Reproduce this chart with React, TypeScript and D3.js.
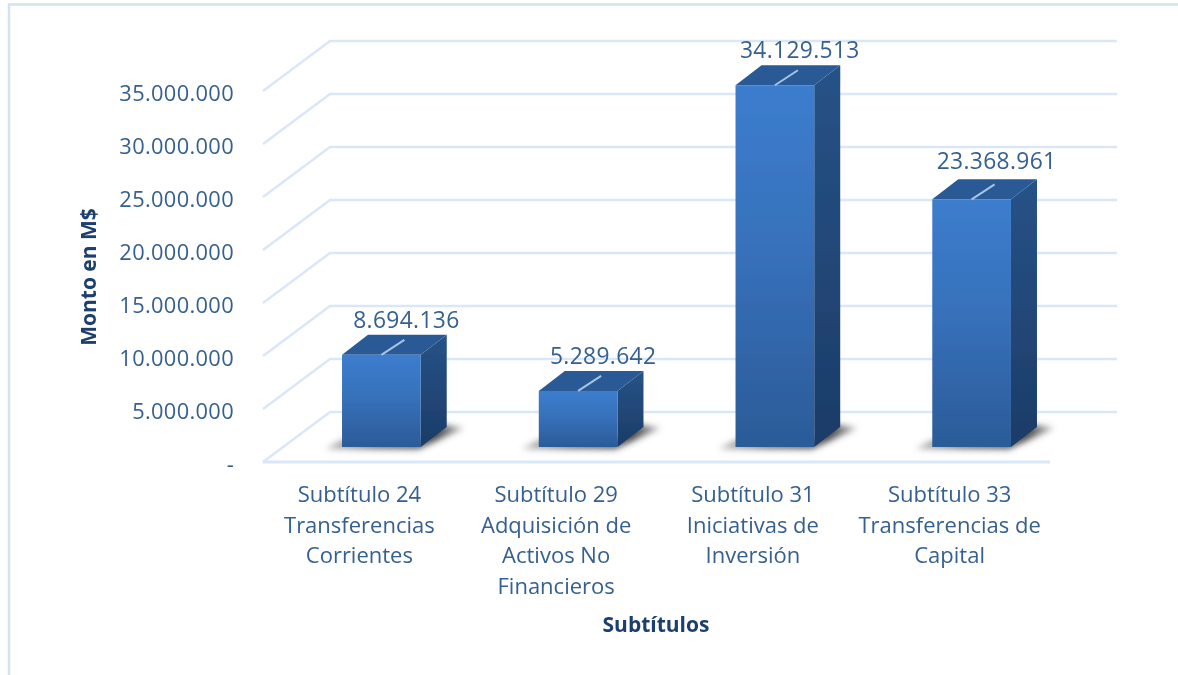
import React from "react";
import * as d3 from "d3";

const categories = ["S24", "S29", "S31", "S33"];
const categoryLines = [
  ["Subtítulo 24", "Transferencias", "Corrientes"],
  ["Subtítulo 29", "Adquisición de", "Activos No", "Financieros"],
  ["Subtítulo 31", "Iniciativas de", "Inversión"],
  ["Subtítulo 33", "Transferencias de", "Capital"],
];
const values = [8694136, 5289642, 34129513, 23368961];
const valueLabels = ["8.694.136", "5.289.642", "34.129.513", "23.368.961"];
const tickValues = [0, 5000000, 10000000, 15000000, 20000000, 25000000, 30000000, 35000000];
const tickLabels = ["-", "5.000.000", "10.000.000", "15.000.000", "20.000.000", "25.000.000", "30.000.000", "35.000.000"];

const W = 1178, H = 675;
const FONT = "'Open Sans', sans-serif";
const TXT = "#35608f";
const TITLE = "#1f3f6e";
const GRID = "#dae7f8";

const DX = 26, DY = 20;
const BACK_DX = 67, BACK_DY = -35, FRONT_DY = 15;

const x = d3.scaleBand<string>().domain(categories).range([283, 1070]).paddingInner(0.6).paddingOuter(0.3);
const y = d3.scaleLinear().domain([0, 35000000]).range([447, 76]);
const FLOOR_L = 263, FLOOR_R = 1050;

const poly = (pts: [number, number][]) => pts.map((p) => p.join(",")).join(" ");

export default function App() {
  const bw = x.bandwidth();
  return (
    <svg width={W} height={H} style={{ position: "absolute", left: 0, top: 0, background: "#fff" }} fontFamily={FONT}>
      <defs>
        <linearGradient id="front" x1="0" y1="0" x2="0" y2="1">
          <stop offset="0" stopColor="#3c7dce" />
          <stop offset="0.45" stopColor="#3771bb" />
          <stop offset="1" stopColor="#2b5b98" />
        </linearGradient>
        <linearGradient id="side" x1="0" y1="0" x2="0" y2="1">
          <stop offset="0" stopColor="#275287" />
          <stop offset="1" stopColor="#1c3c68" />
        </linearGradient>
        <linearGradient id="shade" x1="0" y1="0" x2="1" y2="0">
          <stop offset="0" stopColor="#888" stopOpacity="0.55" />
          <stop offset="0.35" stopColor="#555" stopOpacity="0.85" />
          <stop offset="0.8" stopColor="#333" stopOpacity="0.9" />
          <stop offset="1" stopColor="#666" stopOpacity="0.5" />
        </linearGradient>
        <filter id="shadow" x="-30%" y="-60%" width="160%" height="220%">
          <feGaussianBlur stdDeviation="3.4" />
        </filter>
        <filter id="soft" x="-2%" y="-2%" width="104%" height="104%">
          <feGaussianBlur stdDeviation="0.5" />
        </filter>
      </defs>

      <path d={`M${W},4.5 H9 V${H}`} fill="none" stroke="#d3e2f3" strokeWidth={2.5} />

      <g filter="url(#soft)">
        {tickValues.map((v, i) => {
          const yFront = y(v) + FRONT_DY;
          const yBack = y(v) + BACK_DY;
          return (
            <g key={v}>
              <polyline
                points={poly([[FLOOR_L, yFront], [FLOOR_L + BACK_DX, yBack], [FLOOR_R + BACK_DX, yBack]])}
                fill="none"
                stroke={GRID}
                strokeWidth={2.5}
              />
              <text x={234} y={yFront + 9.5} textAnchor="end" fontSize={21.8} fill={TXT} letterSpacing={0.35}>
                {tickLabels[i]}
              </text>
            </g>
          );
        })}
        <line x1={FLOOR_L} x2={FLOOR_R} y1={y(0) + FRONT_DY} y2={y(0) + FRONT_DY} stroke={GRID} strokeWidth={3} />

        {categories.map((c, i) => {
          const x0 = x(c)!;
          const x1 = x0 + bw;
          const top = y(values[i]);
          const base = y(0);
          const cx = x0 + bw / 2;
          return (
            <g key={c}>
              <polygon
                points={poly([[x0 - 17, base + 2], [x1 - 2, base + 2], [x1 + DX + 17, base - DY + 1], [x1 + DX - 8, base - DY - 3], [x1, base - 6], [x0, base - 7]])}
                fill="url(#shade)"
                filter="url(#shadow)"
              />
              <polygon points={poly([[x1, top], [x1 + DX, top - DY], [x1 + DX, base - DY], [x1, base]])} fill="url(#side)" />
              <polygon points={poly([[x0, top], [x0 + DX, top - DY], [x1 + DX, top - DY], [x1, top]])} fill="#295a96" />
              <rect x={x0} y={top} width={bw} height={base - top} fill="url(#front)" />
              <line x1={cx} y1={top} x2={cx + 23} y2={top - 15} stroke="#a9c4e2" strokeWidth={2} />
              <text x={cx + 25} y={top - (i === 3 ? 30 : 27)} textAnchor="middle" fontSize={22.8} fill={TXT} letterSpacing={0.35}>
                {valueLabels[i]}
              </text>
              {categoryLines[i].map((t, j) => (
                <text key={j} x={cx - 22} y={502 + j * 30.5} textAnchor="middle" fontSize={22} fill={TXT}>
                  {t}
                </text>
              ))}
            </g>
          );
        })}

        <text x={656} y={632} textAnchor="middle" fontSize={21} fontWeight={700} fill={TITLE}>
          Subtítulos
        </text>
        <text transform="translate(96,277) rotate(-90)" textAnchor="middle" fontSize={21} fontWeight={700} fill={TITLE}>
          Monto en M$
        </text>
      </g>
    </svg>
  );
}
